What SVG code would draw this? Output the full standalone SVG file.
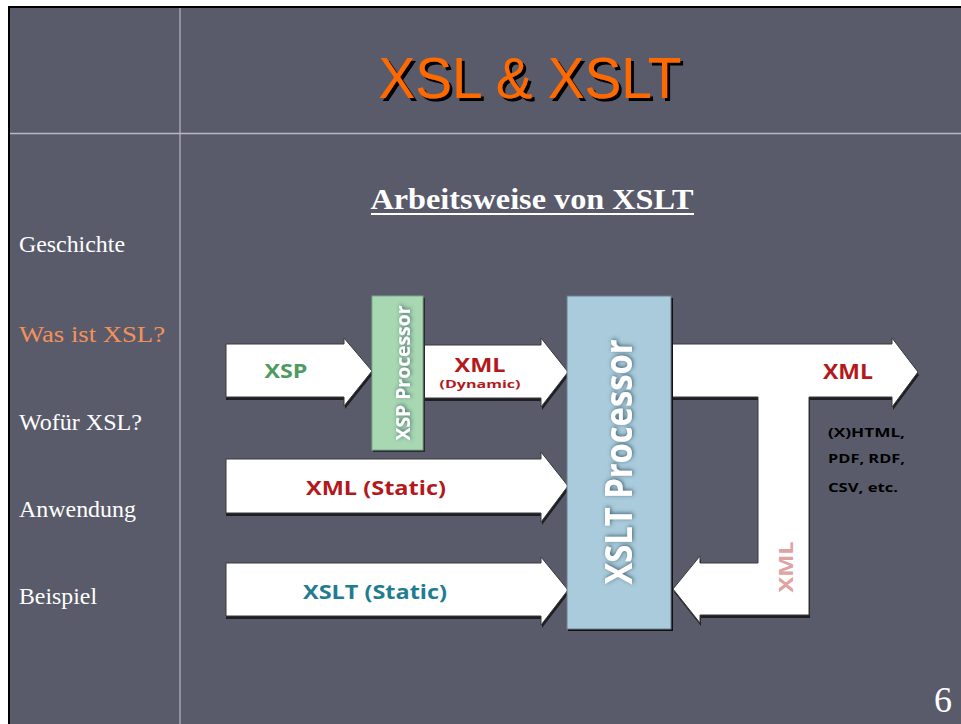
<svg xmlns="http://www.w3.org/2000/svg" width="961" height="724" viewBox="0 0 961 724">
<style>
.menu{font-family:"Liberation Serif","Times New Roman",serif;font-size:23px;fill:#ffffff}
.lbl{font-family:"Open Sans","DejaVu Sans",sans-serif;font-weight:bold}
.arrow{fill:#ffffff;stroke:#3a3a3a;stroke-width:1}
.shadow{fill:#1e1e24}
.small{font-family:"Open Sans","DejaVu Sans",sans-serif;font-weight:bold;font-size:12px;fill:#000}
</style>
<defs>
<filter id="glow" x="-20%" y="-20%" width="140%" height="140%">
<feGaussianBlur in="SourceAlpha" stdDeviation="2"/>
<feOffset dx="1" dy="1" result="b"/>
<feFlood flood-color="#2a4a5a" flood-opacity="0.8"/>
<feComposite in2="b" operator="in"/>
<feMerge><feMergeNode/><feMergeNode in="SourceGraphic"/></feMerge>
</filter>
<filter id="drop" x="-10%" y="-10%" width="120%" height="130%">
<feOffset in="SourceAlpha" dx="3" dy="3" result="o"/>
<feFlood flood-color="#000"/>
<feComposite in2="o" operator="in"/>
<feMerge><feMergeNode/><feMergeNode in="SourceGraphic"/></feMerge>
</filter>
</defs>
<rect x="0" y="0" width="961" height="724" fill="#ffffff"/>
<rect x="8" y="6" width="953" height="718" fill="#000"/>
<rect x="10" y="8" width="951" height="716" fill="#5a5b6a"/>
<line x1="180" y1="8" x2="180" y2="724" stroke="#c8c8d0" stroke-width="1"/>
<line x1="10" y1="133.5" x2="961" y2="133.5" stroke="#b8b8c2" stroke-width="1.5"/>

<g id="title">
<text x="530" y="98" text-anchor="middle" font-family="Liberation Sans, Arial, sans-serif" font-size="58" fill="#ff6a00" filter="url(#drop)" textLength="303" lengthAdjust="spacingAndGlyphs">XSL &amp; XSLT</text>
</g>
<g id="subtitle">
<text x="532" y="209" text-anchor="middle" font-family="Liberation Serif, Times New Roman, serif" font-size="30" font-weight="bold" fill="#fff" textLength="323" lengthAdjust="spacingAndGlyphs">Arbeitsweise von XSLT</text>
<rect x="371" y="213" width="323" height="2" fill="#fff"/>
</g>
<g id="menu">
<text class="menu" x="19" y="252" textLength="106" lengthAdjust="spacingAndGlyphs">Geschichte</text>
<text class="menu" x="19" y="342" style="fill:#f4915a" textLength="146" lengthAdjust="spacingAndGlyphs">Was ist XSL?</text>
<text class="menu" x="19" y="430" textLength="123" lengthAdjust="spacingAndGlyphs">Wofür XSL?</text>
<text class="menu" x="19" y="517" textLength="117" lengthAdjust="spacingAndGlyphs">Anwendung</text>
<text class="menu" x="19" y="604" textLength="78" lengthAdjust="spacingAndGlyphs">Beispiel</text>
</g>

<g id="connectors">
<g id="arrow-xsp">
<path class="shadow" d="M226,347 H345 V341 L373,374 L345,409 V400 H226 Z"/>
<path class="arrow" d="M226,344 H344 V338 L372,371 L344,406 V397 H226 Z"/>
<text class="lbl" x="286" y="378" text-anchor="middle" font-size="20" fill="#4f9a5f" textLength="43" lengthAdjust="spacingAndGlyphs">XSP</text>
</g>
<g id="arrow-xml-dynamic">
<path class="shadow" d="M423,348 H542 V341 L569,375 L542,410 V401 H423 Z"/>
<path class="arrow" d="M423,345 H541 V338 L568,372 L541,407 V398 H423 Z"/>
<text class="lbl" x="480" y="372" text-anchor="middle" font-size="20" fill="#b3191c" textLength="51" lengthAdjust="spacingAndGlyphs">XML</text>
<text class="lbl" x="480" y="388" text-anchor="middle" font-size="11" fill="#b3191c" textLength="81" lengthAdjust="spacingAndGlyphs">(Dynamic)</text>
</g>
<g id="arrow-xml-static">
<path class="shadow" d="M226,462 H542 V455 L569,489 L542,525 V516 H226 Z"/>
<path class="arrow" d="M226,459 H541 V452 L568,486 L541,522 V513 H226 Z"/>
<text class="lbl" x="376" y="495" text-anchor="middle" font-size="20" fill="#b3191c" textLength="140" lengthAdjust="spacingAndGlyphs">XML (Static)</text>
</g>
<g id="arrow-xslt-static">
<path class="shadow" d="M226,566 H542 V560 L569,593 L542,628 V619 H226 Z"/>
<path class="arrow" d="M226,563 H541 V557 L568,590 L541,625 V616 H226 Z"/>
<text class="lbl" x="375" y="599" text-anchor="middle" font-size="20" fill="#217c91" textLength="144" lengthAdjust="spacingAndGlyphs">XSLT (Static)</text>
</g>
<g id="arrow-output">
<path class="shadow" d="M671,347 H893 V341 L919,375 L893,410 V400 H810 V618 H701 V626 L674,592 L701,559 V566 H759 V400 H671 Z"/>
<path class="arrow" d="M671,344 H892 V338 L918,372 L892,407 V397 H809 V615 H700 V623 L673,589 L700,556 V563 H758 V397 H671 Z"/>
<text class="lbl" x="848" y="379" text-anchor="middle" font-size="21" fill="#b3191c" textLength="50" lengthAdjust="spacingAndGlyphs">XML</text>
<text class="lbl" transform="translate(793,567) rotate(-90)" x="0" y="0" text-anchor="middle" font-size="20" fill="#e0a3a3" textLength="51" lengthAdjust="spacingAndGlyphs">XML</text>
</g>
</g>

<g id="xsp-processor">
<rect x="373" y="298" width="52" height="154" fill="#2a2a30"/>
<rect x="372" y="296" width="51" height="154" fill="#a8d8b2" stroke="#7fa88a" stroke-width="1"/>
<text class="lbl" transform="translate(410,373) rotate(-90)" x="0" y="0" text-anchor="middle" font-size="19" fill="#ffffff" filter="url(#glow)" textLength="135" lengthAdjust="spacingAndGlyphs">XSP Processor</text>
</g>
<g id="xslt-processor">
<rect x="568" y="298" width="105" height="333" fill="#111"/>
<rect x="567" y="296" width="104" height="333" fill="#a9cbdb" stroke="#6a7f8a" stroke-width="1"/>
<text class="lbl" transform="translate(632,462) rotate(-90)" x="0" y="0" text-anchor="middle" font-size="38" fill="#ffffff" filter="url(#glow)" textLength="245" lengthAdjust="spacingAndGlyphs">XSLT Processor</text>
</g>

<g id="formats">
<text class="small" x="828" y="437" textLength="77" lengthAdjust="spacingAndGlyphs">(X)HTML,</text>
<text class="small" x="828" y="463" textLength="77" lengthAdjust="spacingAndGlyphs">PDF, RDF,</text>
<text class="small" x="828" y="492" textLength="70" lengthAdjust="spacingAndGlyphs">CSV, etc.</text>
</g>

<text id="page" x="943" y="712" text-anchor="middle" font-family="Liberation Serif, Times New Roman, serif" font-size="36" fill="#fff">6</text>
</svg>
